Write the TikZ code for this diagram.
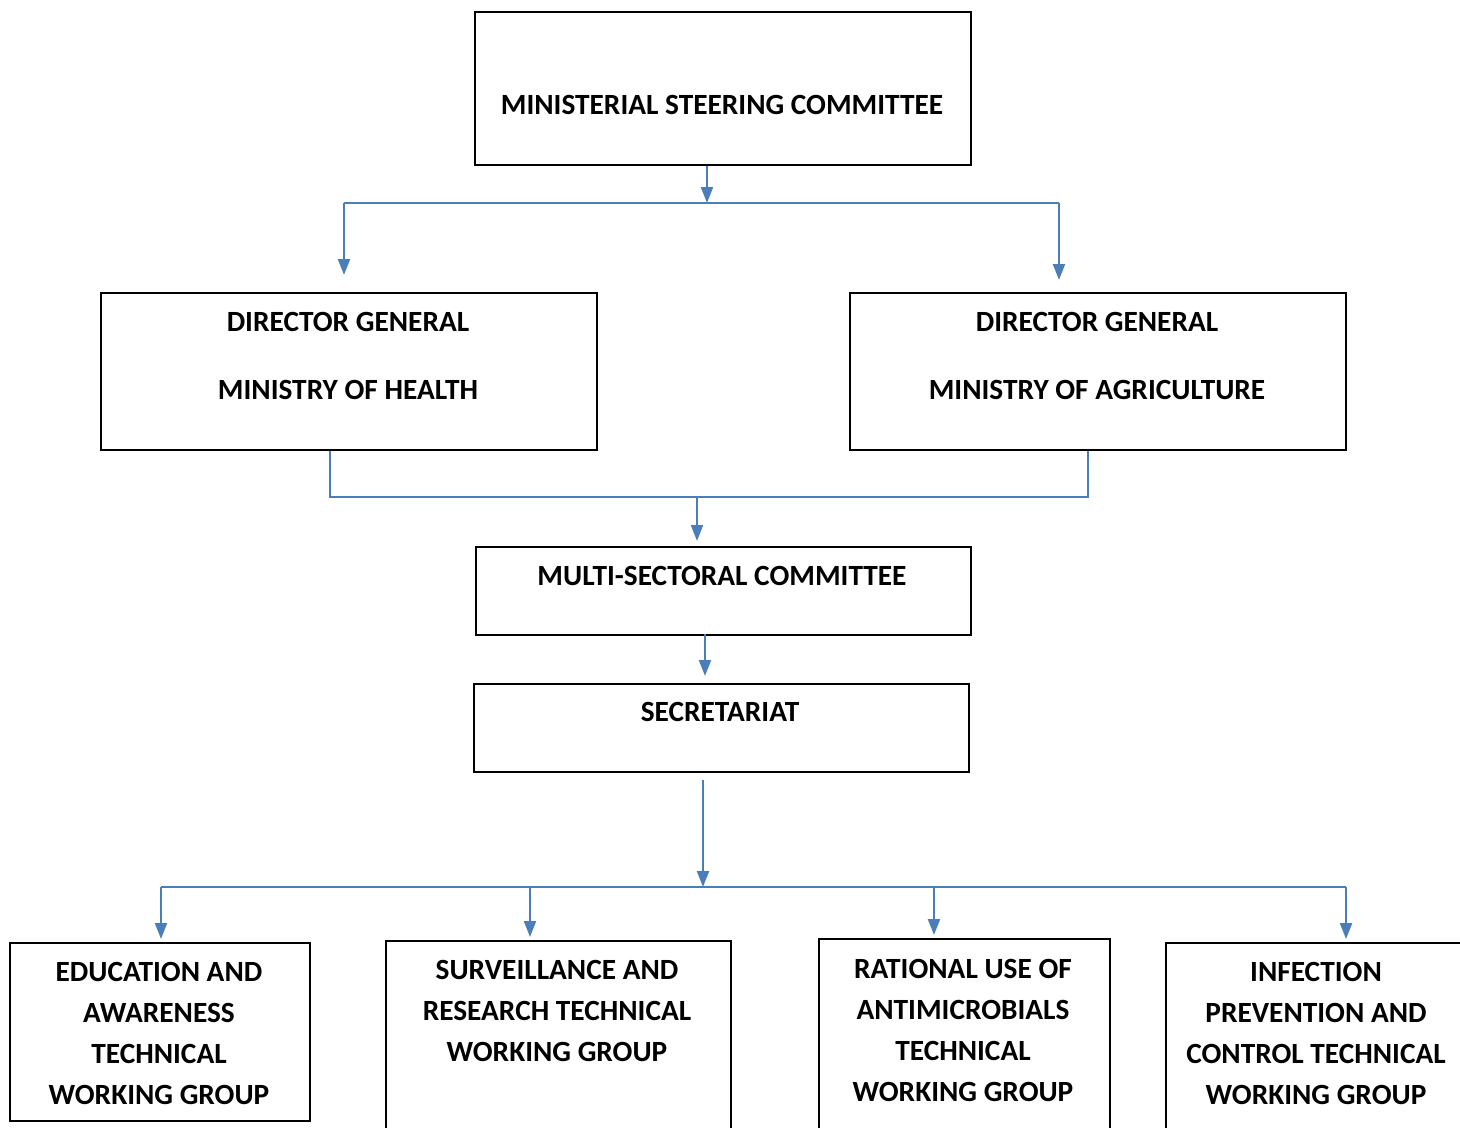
\documentclass[tikz,border=0pt]{standalone}
\usepackage{fontspec}
\setmainfont{Carlito}
\usepackage{xcolor}
\usepackage{tikz}
\usetikzlibrary{arrows.meta}
\definecolor{linkblue}{HTML}{4A7EBB}
\newcommand{\pxu}{0.02cm}

\begin{document}
\begin{tikzpicture}[
  x=0.02cm, y=-0.02cm,
  font=\fontsize{16.7}{23.3}\selectfont\bfseries,
  box/.style={draw, line width=1.1pt, anchor=north west, inner sep=0pt},
  txt/.style={align=center, inner sep=0pt},
  ln/.style={draw=linkblue, line width=1.3pt},
  ar/.style={ln, -{Triangle[length=0.32cm, width=0.24cm]}}
]
\useasboundingbox (0,0) rectangle (1460,1128);

% top level
\node[box, minimum width=496*\pxu, minimum height=153*\pxu] (msc) at (474,11) {};
\node[txt] (msc-t) at (722,105) {MINISTERIAL STEERING COMMITTEE};

% directors general
\node[box, minimum width=496*\pxu, minimum height=157*\pxu] (dgh) at (100,292) {};
\node[txt] (dgh-t) at (348,356) {DIRECTOR GENERAL\\[0.54cm] MINISTRY OF HEALTH};
\node[box, minimum width=496*\pxu, minimum height=157*\pxu] (dga) at (849,292) {};
\node[txt] (dga-t) at (1097,356) {DIRECTOR GENERAL\\[0.54cm] MINISTRY OF AGRICULTURE};

% committee and secretariat
\node[box, minimum width=495*\pxu, minimum height=88*\pxu] (mcom) at (475,546) {};
\node[txt] (mcom-t) at (722,576) {MULTI-SECTORAL COMMITTEE};
\node[box, minimum width=495*\pxu, minimum height=88*\pxu] (sec) at (473,683) {};
\node[txt] (sec-t) at (720,712) {SECRETARIAT};

% working groups
\node[box, minimum width=300*\pxu, minimum height=178*\pxu] (edu) at (9,942) {};
\node[txt] (edu-t) at (159,1033.5) {EDUCATION AND\\ AWARENESS\\ TECHNICAL\\ WORKING GROUP};
\node[box, minimum width=345*\pxu, minimum height=210*\pxu] (surv) at (385,940) {};
\node[txt] (surv-t) at (557,1011) {SURVEILLANCE AND\\ RESEARCH TECHNICAL\\ WORKING GROUP};
\node[box, minimum width=291*\pxu, minimum height=210*\pxu] (rat) at (818,938) {};
\node[txt] (rat-t) at (963,1030.5) {RATIONAL USE OF\\ ANTIMICROBIALS\\ TECHNICAL\\ WORKING GROUP};
\node[box, minimum width=320*\pxu, minimum height=210*\pxu] (ipc) at (1165,942) {};
\node[txt] (ipc-t) at (1316,1033.5) {INFECTION\\ PREVENTION AND\\ CONTROL TECHNICAL\\ WORKING GROUP};

% junctions
\coordinate (j1) at (707,203);
\coordinate (jl) at (344,203);
\coordinate (jr) at (1059,203);
\coordinate (jh) at (330,497);
\coordinate (ja) at (1088,497);
\coordinate (jm) at (697,497);
\coordinate (jc) at (705,634);
\coordinate (js) at (703,887);
\coordinate (b1) at (161,887);
\coordinate (b2) at (530,887);
\coordinate (b3) at (934,887);
\coordinate (b4) at (1346,887);

\draw[ar] (msc.south -| j1) -- (j1);
\draw[ln] (jl) -- (jr);
\draw[ar, shorten >=0.34cm] (jl) -- (jl |- dgh.north);
\draw[ar, shorten >=0.24cm] (jr) -- (jr |- dga.north);

\draw[ln] (dgh.south -| jh) -- (jh) -- (ja) -- (dga.south -| ja);
\draw[ar, shorten >=0.1cm] (jm) -- (jm |- mcom.north);
\draw[ar, shorten >=0.14cm] (jc) -- (jc |- sec.north);

\draw[ar, shorten <=0.14cm] (sec.south -| js) -- (js);
\draw[ln] (b1) -- (b4);
\draw[ar, shorten >=0.06cm] (b1) -- (b1 |- edu.north);
\draw[ar, shorten >=0.06cm] (b2) -- (b2 |- surv.north);
\draw[ar, shorten >=0.06cm] (b3) -- (b3 |- rat.north);
\draw[ar, shorten >=0.06cm] (b4) -- (b4 |- ipc.north);
\end{tikzpicture}
\end{document}
